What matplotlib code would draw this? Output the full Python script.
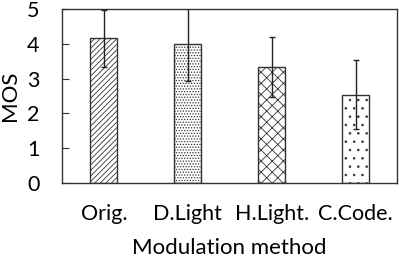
import matplotlib

matplotlib.use("Agg")

import matplotlib.pyplot as plt

methods = ["Orig.", "D.Light", "H.Light.", "C.Code."]
mos = [4.16, 4.00, 3.34, 2.54]
err = [0.82, 1.07, 0.86, 0.98]
hatches = ["//////", "......", "xxx", ".."]

plt.rcParams["font.family"] = ["Lato", "DejaVu Sans"]
plt.rcParams["hatch.linewidth"] = 0.6

fig = plt.figure(figsize=(3.99, 2.57), dpi=100)
ax = fig.add_axes([0.155, 0.288, 0.84, 0.677])

x = list(range(len(methods)))
for i in x:
    ax.bar(i, mos[i], width=0.32, color="white", edgecolor="#333333",
           linewidth=1.0, hatch=hatches[i], zorder=2)
ax.errorbar(x, mos, yerr=err, fmt="none", ecolor="#222222",
            elinewidth=1.0, capsize=2.2, capthick=1.0, zorder=3)

ax.set_xlim(-0.5, 3.49)
ax.set_ylim(0, 5)
ax.set_yticks([0, 1, 2, 3, 4, 5])
ax.set_xticks(x)
ax.set_xticklabels(methods)
ax.tick_params(axis="y", direction="in", length=5, width=0.8,
               labelsize=15.5, pad=16, color="#333333")
ax.tick_params(axis="x", length=0, labelsize=15.5, pad=15)
ax.set_ylabel("MOS", fontsize=16, labelpad=5)
ax.set_xlabel("Modulation method", fontsize=16, labelpad=10)
for s in ax.spines.values():
    s.set_linewidth(1.0)
    s.set_color("#333333")

fig.savefig("out.png", dpi=100)
